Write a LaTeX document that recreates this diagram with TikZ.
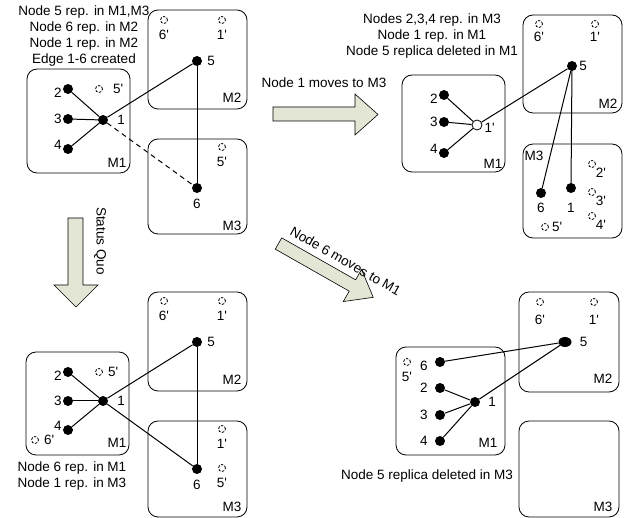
\documentclass[tikz,border=0pt]{standalone}
\usepackage{fontspec}
\setmainfont{Liberation Sans}
\usepackage{tikz}
\usetikzlibrary{positioning,shapes.geometric}
\definecolor{arrowfill}{RGB}{227,230,212}

\begin{document}
\begin{tikzpicture}[x=1pt,y=-1pt,
    font=\fontsize{13.5}{16}\selectfont,
    box/.style={draw, rounded corners=10pt, line width=0.8pt},
    dot/.style={circle, fill, inner sep=0pt, minimum size=10pt},
    hollow/.style={circle, draw, fill=white, inner sep=0pt, minimum size=10pt, line width=0.8pt},
    rep/.style={circle, draw, dash pattern=on 2.5pt off 1.5pt, inner sep=0pt, minimum size=7pt, line width=0.8pt},
    edge/.style={line width=1pt},
    blockarrow/.style={draw, fill=arrowfill, line width=0.6pt},
    every label/.style={inner sep=1pt}]
    \useasboundingbox (0,0) rectangle (625,518);

    % panel 1
    \draw[box] (27,69) rectangle (130,173);
    \draw[box] (148,10) rectangle (247,109);
    \draw[box] (148,139) rectangle (247,234);
    \node (am1) at (117,163) {M1};
    \node (am2) at (232,98) {M2};
    \node (am3) at (232,226) {M3};
    \node[align=center] (atxt) at (84,36) {Node 5 rep. in M1,M3\\Node 6 rep. in M2\\Node 1 rep. in M2\\Edge 1-6 created};
    \node[dot,label={[yshift=-4pt]left:2}] (a2) at (68,89) {};
    \node[dot,label={left:3}] (a3) at (68,119) {};
    \node[dot,label={[yshift=4pt]left:4}] (a4) at (68,149) {};
    \node[dot,label={[label distance=8pt]right:1}] (a1) at (103,120) {};
    \node[dot,label={[label distance=4pt]right:5}] (a5) at (197,61) {};
    \node[dot,label={[label distance=5pt]below:6}] (a6) at (197,188) {};
    \node[rep,label={[label distance=9pt]right:5\textquotesingle}] (ar5) at (99,89) {};
    \node[rep,label={[label distance=5pt]below:6\textquotesingle}] (ar6) at (164,20) {};
    \node[rep,label={[label distance=5pt]below:1\textquotesingle}] (ar1) at (222,20) {};
    \node[rep,label={[label distance=5pt]below:5\textquotesingle}] (ar5b) at (222,147) {};
    \draw[edge] (a2) -- (a1);
    \draw[edge] (a3) -- (a1);
    \draw[edge] (a4) -- (a1);
    \draw[edge] (a1) -- (a5);
    \draw[edge] (a5) -- (a6);
    \draw[edge,dash pattern=on 5pt off 4pt] (a1) -- (a6);

    % panel 2
    \draw[box] (402,75) rectangle (505,172);
    \draw[box] (523,15) rectangle (622,113);
    \draw[box] (523,144) rectangle (622,238);
    \node (bm1) at (493,164) {M1};
    \node (bm2) at (608,104) {M2};
    \node (bm3) at (534,156) {M3};
    \node[align=center] (btxt) at (432,36) {Nodes 2,3,4 rep. in M3\\Node 1 rep. in M1\\Node 5 replica deleted in M1};
    \node[dot,label={[yshift=-4pt]left:2}] (b2) at (444,95) {};
    \node[dot,label={left:3}] (b3) at (444,122) {};
    \node[dot,label={[yshift=4pt]left:4}] (b4) at (444,153) {};
    \node[hollow,label={[label distance=1pt,yshift=-3pt]right:1\textquotesingle}] (b1) at (477,125) {};
    \node[dot,label={[label distance=1pt]right:5}] (b5) at (572,66) {};
    \node[dot,label={[label distance=4pt]below:6}] (b6) at (541,193) {};
    \node[dot,label={[label distance=9pt]below:1}] (b1n) at (571,188) {};
    \node[rep,label={[label distance=3pt]below:6\textquotesingle}] (br6) at (539,24) {};
    \node[rep,label={[label distance=3pt]below:1\textquotesingle}] (br1) at (595,24) {};
    \node[rep,label={below right:2\textquotesingle}] (br2) at (592,164) {};
    \node[rep,label={below right:3\textquotesingle}] (br3) at (592,192) {};
    \node[rep,label={below right:4\textquotesingle}] (br4) at (592,216) {};
    \node[rep,label={[label distance=2pt]right:5\textquotesingle}] (br5) at (545,227) {};
    \draw[edge] (b2) -- (b1);
    \draw[edge] (b3) -- (b1);
    \draw[edge] (b4) -- (b1);
    \draw[edge] (b1) -- (b5);
    \draw[edge] (b5) -- (b6);
    \draw[edge] (b5) -- (b1n);

    % panel 3
    \draw[box] (26,352) rectangle (129,455);
    \draw[box] (148,292) rectangle (247,391);
    \draw[box] (148,421) rectangle (247,517);
    \node (cm1) at (117,443) {M1};
    \node (cm2) at (232,380) {M2};
    \node (cm3) at (232,507) {M3};
    \node[align=center] (ctxt) at (72,476) {Node 6 rep. in M1\\Node 1 rep. in M3};
    \node[dot,label={[yshift=-4pt]left:2}] (c2) at (68,372) {};
    \node[dot,label={left:3}] (c3) at (68,401) {};
    \node[dot,label={[yshift=4pt]left:4}] (c4) at (68,430) {};
    \node[dot,label={[label distance=8pt]right:1}] (c1) at (103,401) {};
    \node[dot,label={[label distance=4pt]right:5}] (c5) at (197,342) {};
    \node[dot,label={[label distance=5pt]below:6}] (c6) at (197,469) {};
    \node[rep,label={[label distance=4pt]right:5\textquotesingle}] (cr5) at (99,372) {};
    \node[rep,label={[label distance=4pt]right:6\textquotesingle}] (cr6) at (35,440) {};
    \node[rep,label={[label distance=5pt]below:6\textquotesingle}] (cr6b) at (164,301) {};
    \node[rep,label={[label distance=5pt]below:1\textquotesingle}] (cr1) at (222,301) {};
    \node[rep,label={[label distance=5pt]below:1\textquotesingle}] (cr1b) at (222,429) {};
    \node[rep,label={[label distance=5pt]below:5\textquotesingle}] (cr5b) at (222,468) {};
    \draw[edge] (c2) -- (c1);
    \draw[edge] (c3) -- (c1);
    \draw[edge] (c4) -- (c1);
    \draw[edge] (c1) -- (c5);
    \draw[edge] (c1) -- (c6);
    \draw[edge] (c5) -- (c6);

    % panel 4
    \draw[box] (396,347) rectangle (505,455);
    \draw[box] (519,292) rectangle (619,392);
    \draw[box] (519,421) rectangle (619,517);
    \node (dm1) at (488,443) {M1};
    \node (dm2) at (603,379) {M2};
    \node (dm3) at (603,507) {M3};
    \node (dtxt) at (427,476) {Node 5 replica deleted in M3};
    \node[dot,label={[label distance=6pt,yshift=-4pt]left:6}] (d6) at (440,362) {};
    \node[dot,label={[label distance=6pt]left:2}] (d2) at (440,388) {};
    \node[dot,label={[label distance=6pt]left:3}] (d3) at (440,415) {};
    \node[dot,label={[label distance=6pt]left:4}] (d4) at (440,441) {};
    \node[dot,label={[label distance=7pt]right:1}] (d1) at (475,402) {};
    \node[dot,ellipse,minimum width=13pt,label={[label distance=7pt]right:5}] (d5) at (565,342) {};
    \node[rep,label={[label distance=5pt]below:5\textquotesingle}] (dr5) at (407,362) {};
    \node[rep,label={[label distance=8pt]below:6\textquotesingle}] (dr6) at (540,302) {};
    \node[rep,label={[label distance=8pt]below:1\textquotesingle}] (dr1) at (594,302) {};
    \draw[edge] (d6) -- (d5);
    \draw[edge] (d2) -- (d1);
    \draw[edge] (d3) -- (d1);
    \draw[edge] (d4) -- (d1);
    \draw[edge] (d1) -- (d5);

    % arrows
    \draw[blockarrow] (273,107) -- (355,107) -- (355,94) -- (378,114.5) -- (355,135) -- (355,121) -- (273,121) -- cycle;
    \node (hlbl) at (324,83) {Node 1 moves to M3};
    \draw[blockarrow] (68,218) -- (68,285) -- (54,285) -- (76,307) -- (98,285) -- (83,285) -- (83,218) -- cycle;
    \node[rotate=-90] (slbl) at (100,241) {Status Quo};
    \begin{scope}[shift={(278.5,243.5)},rotate=-29.6]
        \draw[blockarrow] (0,-6.5) -- (85,-6.5) -- (85,-18.5) -- (109,0) -- (85,18.5) -- (85,6.5) -- (0,6.5) -- cycle;
        \node[rotate=-29.6] (dlbl) at (67,-18) {Node 6 moves to M1};
    \end{scope}
\end{tikzpicture}
\end{document}
